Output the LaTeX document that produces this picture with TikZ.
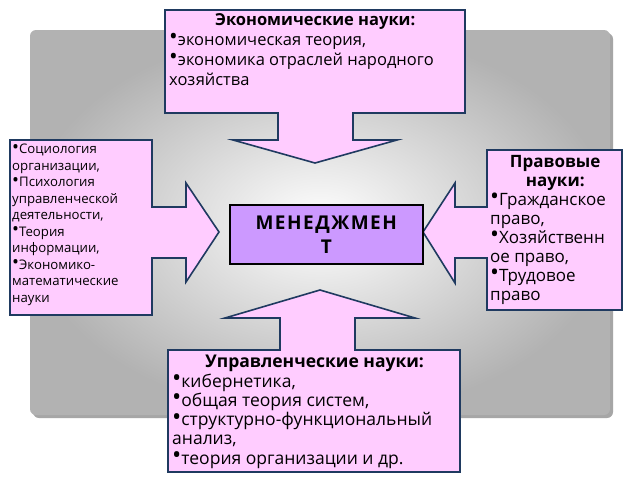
\documentclass[tikz,border=0pt]{standalone}
\usepackage{fontspec}
\usepackage{graphicx}
\setmainfont{Open Sans}
\definecolor{pk}{HTML}{FFCCFF}
\definecolor{bd}{HTML}{1F3A60}
\definecolor{vi}{HTML}{CC99FF}
\newcommand{\bul}{\raisebox{0.05ex}{\scalebox{1.4}{\textbullet}}}
\begin{document}
\begin{tikzpicture}[x=1pt,y=-1pt,
  call/.style={fill=pk,draw=bd,line width=1.6pt,line join=miter},
  txt/.style={anchor=north west,inner sep=0pt,align=left,font=\fontsize{16.5}{20}\selectfont}]
\useasboundingbox (0,0) rectangle (640,480);
\fill[white] (0,0) rectangle (640,480);
\fill[black!35,rounded corners=6pt] (33,33) rectangle (613,418);
\shade[inner color=white,outer color=black!30,rounded corners=6pt] (30,30) rectangle (610,415);
% top callout
\draw[call] (165,10) -- (465,10) -- (465,113) -- (353,113) -- (353,140) -- (397,140) -- (315,163) -- (233,140) -- (278,140) -- (278,113) -- (165,113) -- cycle;
\node[txt] (top) at (169,13) {\makebox[292pt]{\bfseries Экономические науки:}\\
\bul экономическая теория,\\ \bul экономика отраслей народного\\ хозяйства};
% left callout
\draw[call] (10,140) -- (152,140) -- (152,207) -- (186,207) -- (186,183) -- (219,232) -- (186,282) -- (186,258) -- (152,258) -- (152,315) -- (10,315) -- cycle;
\node[txt,font=\fontsize{13.2}{16.5}\selectfont] (left) at (12,144) {\bul Социология\\ организации,\\ \bul Психология\\ управленческой\\ деятельности,\\ \bul Теория\\ информации,\\ \bul Экономико-\\ математические\\ науки};
% right callout
\draw[call] (622,150) -- (622,310) -- (487,310) -- (487,258) -- (455,258) -- (455,283) -- (423,232) -- (455,183) -- (455,207) -- (487,207) -- (487,150) -- cycle;
\node[txt,font=\fontsize{17}{19}\selectfont] (right) at (490,155) {\makebox[130pt]{\bfseries Правовые}\\ \makebox[130pt]{\bfseries науки:}\\ \bul Гражданское\\ право,\\ \bul Хозяйственн\\ ое право,\\ \bul Трудовое\\ право};
% bottom callout
\draw[call] (168,472) -- (460,472) -- (460,350) -- (355,350) -- (355,318) -- (415,318) -- (320,290) -- (225,318) -- (280,318) -- (280,350) -- (168,350) -- cycle;
\node[txt,font=\fontsize{17.5}{19.3}\selectfont] (bot) at (172,355) {\makebox[285pt]{\bfseries Управленческие науки:}\\
\bul кибернетика,\\ \bul общая теория систем,\\ \bul структурно-функциональный\\ анализ,\\ \bul теория организации и др.};
% centre
\node[draw=black,line width=1.5pt,fill=vi,minimum width=193pt,minimum height=59pt,align=center,inner sep=0pt,font=\fontsize{19}{24}\bfseries\selectfont,anchor=north west] (m) at (229,204) {\addfontfeature{LetterSpace=8}МЕНЕДЖМЕН\\\addfontfeature{LetterSpace=8}Т};
\end{tikzpicture}
\end{document}
